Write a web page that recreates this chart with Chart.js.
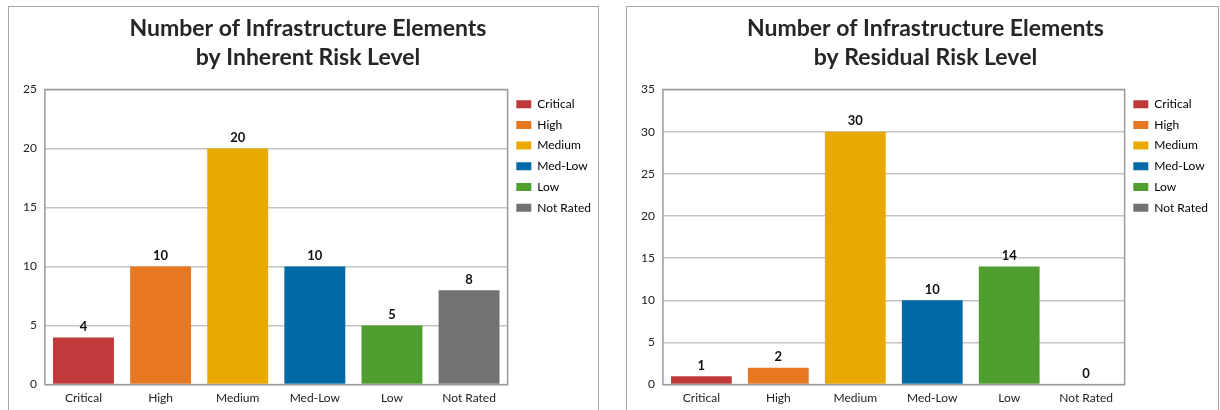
<!DOCTYPE html>
<html>
<head>
<meta charset="utf-8">
<script src="https://cdn.jsdelivr.net/npm/chart.js@4"></script>
<style>
  body { margin: 0; background: #fff; width: 1220px; height: 410px; overflow: hidden; }
  .panel { position: absolute; top: 6px; height: 410px; border: 1px solid #a6a6a6; box-sizing: border-box; }
  #p1 { left: 8px; width: 591px; }
  #p2 { left: 626px; width: 593px; }
</style>
</head>
<body>
<div class="panel" id="p1"><canvas id="chart1"></canvas></div>
<div class="panel" id="p2"><canvas id="chart2"></canvas></div>
<script>
// categories and values
const categories = ["Critical", "High", "Medium", "Med-Low", "Low", "Not Rated"];
const inherentValues = [4, 10, 20, 10, 5, 8];
const residualValues = [1, 2, 30, 10, 14, 0];
const colors = ["#c0393b", "#e87722", "#e9a900", "#0069a6", "#509e2f", "#727272"];

// draws the grey frame round the plot area and the value above each bar
const barExtras = {
  id: "barExtras",
  afterDatasetsDraw(chart) {
    const ctx = chart.ctx;
    const a = chart.chartArea;
    ctx.save();
    ctx.strokeStyle = "#9a9a9a";
    ctx.lineWidth = 1.5;
    ctx.strokeRect(a.left, a.top, a.right - a.left, a.bottom - a.top);
    ctx.fillStyle = "#111";
    ctx.font = "bold 13px Lato";
    ctx.textAlign = "center";
    ctx.textBaseline = "bottom";
    const meta = chart.getDatasetMeta(0);
    meta.data.forEach((bar, i) => {
      ctx.fillText(chart.data.datasets[0].data[i], bar.x, bar.y - 4);
    });
    ctx.restore();
  }
};

function makeChart(id, title, values, maxY) {
  const ctx = document.getElementById(id).getContext("2d");
  return new Chart(ctx, {
    type: "bar",
    data: {
      labels: categories,
      datasets: [{
        data: values,
        backgroundColor: colors,
        barPercentage: 0.79,
        categoryPercentage: 1,
      }],
    },
    options: {
      responsive: false,
      animation: false,
      layout: { padding: { left: 6, right: 0, top: 0, bottom: 0 } },
      plugins: {
        title: {
          display: true,
          text: title,
          color: "#262626",
          font: { family: "Lato", size: 23, weight: "bold", lineHeight: 1.25 },
          padding: { top: 7, bottom: 18 },
        },
        legend: {
          position: "right",
          align: "start",
          fullSize: false,
          labels: {
            color: "#222",
            font: { family: "Lato", size: 12 },
            boxWidth: 15,
            boxHeight: 8,
            padding: 8.7,
            generateLabels: (chart) => categories.map((c, i) => ({
              text: c,
              fillStyle: colors[i],
              strokeStyle: colors[i],
              lineWidth: 0,
              index: i,
            })),
          },
        },
        tooltip: { enabled: false },
      },
      scales: {
        x: {
          grid: { display: false, drawTicks: false },
          border: { display: false },
          ticks: { color: "#222", font: { family: "Lato", size: 12 }, padding: 6 },
        },
        y: {
          min: 0,
          max: maxY,
          ticks: { stepSize: 5, color: "#222", font: { family: "Lato", size: 12 }, padding: 8 },
          grid: { color: "#c4c4c4", drawTicks: false, lineWidth: 1.5 },
          border: { display: false },
        },
      },
    },
    plugins: [barExtras],
  });
}

const c1 = document.getElementById("chart1");
c1.width = 592; c1.height = 404;
const c2 = document.getElementById("chart2");
c2.width = 591; c2.height = 404;

makeChart("chart1", ["Number of Infrastructure Elements", "by Inherent Risk Level"], inherentValues, 25);
makeChart("chart2", ["Number of Infrastructure Elements", "by Residual Risk Level"], residualValues, 35);
</script>
</body>
</html>
